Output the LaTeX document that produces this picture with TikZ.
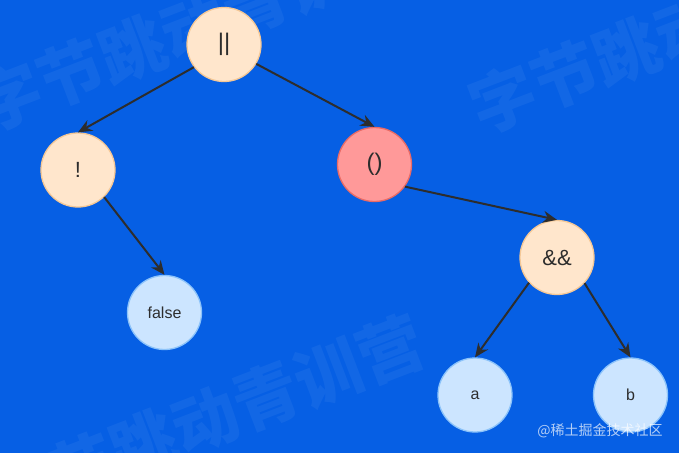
\documentclass[tikz,border=0pt]{standalone}
\usepackage{fontspec}
\setmainfont{Liberation Sans}
\newfontfamily\cjk{Noto Sans CJK SC}
\usetikzlibrary{arrows.meta}
\definecolor{bgblue}{RGB}{6,95,228}
\definecolor{ink}{RGB}{45,45,45}
\definecolor{peach}{RGB}{255,230,204}
\definecolor{peachline}{RGB}{245,200,150}
\definecolor{rose}{RGB}{255,153,153}
\definecolor{roseline}{RGB}{234,107,102}
\definecolor{sky}{RGB}{204,229,255}
\definecolor{skyline}{RGB}{140,195,250}
\newcommand{\fs}[1]{\fontsize{#1}{#1}\selectfont}

\begin{document}
\begin{tikzpicture}[x=1pt,y=-1pt,
   ball/.style={circle,minimum size=74pt,inner sep=0pt,line width=1.3pt,text=ink},
   op/.style={ball,fill=peach,draw=peachline,font=\fs{22}},
   hot/.style={ball,fill=rose,draw=roseline,font=\fs{22}},
   leaf/.style={ball,fill=sky,draw=skyline,font=\fs{16}},
   link/.style={draw=ink,line width=2pt,-{Stealth[length=14pt,width=12pt]}},
   wmark/.style={text=white,opacity=0.05,rotate=21,font=\cjk\bfseries\fs{66}}]
   \useasboundingbox (0,0) rectangle (679,453);
   \fill[bgblue] (0,0) rectangle (679,453);
   % watermark
   \node[wmark] (wm1) at (194,26) {字节跳动青训营};
   \node[wmark] (wm2) at (688,28) {字节跳动青训营};
   \node[wmark] (wm3) at (205,420) {字节跳动青训营};
   % tree
   \node[op,font=\fs{24}] (or) at (224,44.5) {||};
   \node[op] (not) at (78,170) {!};
   \node[hot,font=\fs{24}] (par) at (374.5,164.5) {()};
   \node[op] (and) at (557,257.5) {\&\&};
   \node[leaf] (false) at (164.5,312.5) {false};
   \node[leaf] (a) at (475,395) {a};
   \node[leaf] (b) at (630.5,395) {b};
   \draw[link] (or.217) -- (not.north);
   \draw[link] (or.-31) -- (par.north);
   \draw[link] (not.-46) -- (false.north);
   \draw[link] (par.-36) -- (and.north);
   \draw[link] (and.222) -- (a.north);
   \draw[link] (and.-43) -- (b.north);
   \node[text=white,opacity=0.7,font=\cjk\fs{14}] (site) at (600,431) {@稀土掘金技术社区};
\end{tikzpicture}
\end{document}
